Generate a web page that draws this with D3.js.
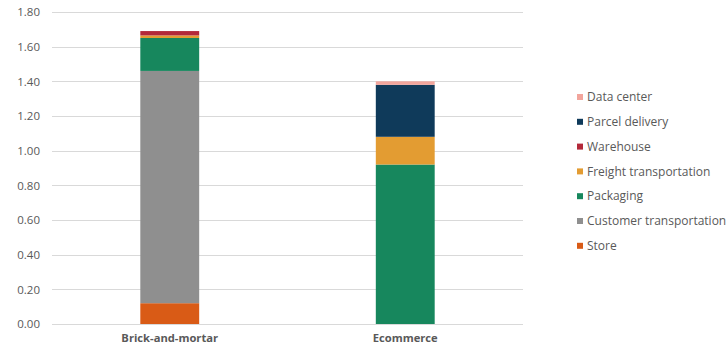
<!DOCTYPE html>
<html lang="en">
<head>
<meta charset="utf-8">
<title>Stacked bar chart</title>
<script src="https://d3js.org/d3.v7.min.js"></script>
<style>
  body { margin: 0; background: #fff; }
  text { font-family: "Open Sans", "Noto Sans", sans-serif; fill: #595959; }
</style>
</head>
<body>
<div id="chart"></div>
<script>
// categories and series (bottom of stack first)
var categories = ["Brick-and-mortar", "Ecommerce"];
var seriesNames = ["Store", "Customer transportation", "Packaging", "Freight transportation", "Warehouse", "Parcel delivery", "Data center"];
var seriesColors = ["#d95b16", "#8f8f8f", "#17875d", "#e39c32", "#b3293a", "#0f3a5a", "#f2a59c"];
var store        = [0.12, 0.00];
var customer     = [1.34, 0.00];
var packaging    = [0.19, 0.92];
var freight      = [0.015, 0.16];
var warehouse    = [0.025, 0.00];
var parcel       = [0.00, 0.30];
var dataCenter   = [0.00, 0.02];
var yTicks = [0, 0.2, 0.4, 0.6, 0.8, 1.0, 1.2, 1.4, 1.6, 1.8];

var seriesValues = [store, customer, packaging, freight, warehouse, parcel, dataCenter];

var W = 728, H = 352;
var margin = {top: 12, right: 205, bottom: 28, left: 52};
var width = W - margin.left - margin.right,
    height = H - margin.top - margin.bottom;

var svg = d3.select("#chart").append("svg")
    .attr("width", W)
    .attr("height", H);

var g = svg.append("g")
    .attr("transform", "translate(" + margin.left + "," + margin.top + ")");

// build rows for d3.stack
var rows = categories.map(function(c, i) {
  var r = {cat: c};
  seriesNames.forEach(function(s, j) { r[s] = seriesValues[j][i]; });
  return r;
});
var stacked = d3.stack().keys(seriesNames)(rows);

var x = d3.scaleBand()
    .domain(categories)
    .range([0, width])
    .paddingInner(0.75)
    .paddingOuter(0.375);

var y = d3.scaleLinear()
    .domain([0, 1.8])
    .range([height, 0]);

// gridlines
g.append("g")
    .selectAll("line")
    .data(yTicks)
    .enter().append("line")
    .attr("x1", 0)
    .attr("x2", width)
    .attr("y1", function(d) { return Math.round(y(d)) + 0.5; })
    .attr("y2", function(d) { return Math.round(y(d)) + 0.5; })
    .attr("stroke", "#d9d9d9")
    .attr("stroke-width", 1);

// y axis labels
var yAxis = g.append("g")
    .call(d3.axisLeft(y).tickValues(yTicks).tickFormat(d3.format(".2f")).tickSize(0).tickPadding(12));
yAxis.select(".domain").remove();
yAxis.selectAll("text").style("font-size", "11.5px").attr("fill", "#595959");

// bars
g.selectAll(".layer")
  .data(stacked)
  .enter().append("g")
    .attr("class", "layer")
    .attr("fill", function(d, i) { return seriesColors[i]; })
  .selectAll("rect")
  .data(function(d) { return d; })
  .enter().append("rect")
    .attr("x", function(d) { return x(d.data.cat); })
    .attr("width", x.bandwidth())
    .attr("y", function(d) { return y(d[1]); })
    .attr("height", function(d) { return Math.max(0, y(d[0]) - y(d[1])); });

// x axis labels
var xAxis = g.append("g")
    .attr("transform", "translate(0," + height + ")")
    .call(d3.axisBottom(x).tickSize(0).tickPadding(10));
xAxis.select(".domain").remove();
xAxis.selectAll("text")
    .style("font-size", "11.2px")
    .style("font-weight", "bold")
    .attr("fill", "#404040");

// legend (top item is last series)
var legend = svg.append("g")
    .attr("transform", "translate(577,97)");
var legItems = seriesNames.slice().reverse();
var legColors = seriesColors.slice().reverse();
var item = legend.selectAll(".item")
    .data(legItems)
    .enter().append("g")
    .attr("transform", function(d, i) { return "translate(0," + (i * 24.8) + ")"; });
item.append("rect")
    .attr("x", 0)
    .attr("y", -3)
    .attr("width", 6)
    .attr("height", 6)
    .attr("fill", function(d, i) { return legColors[i]; });
item.append("text")
    .attr("x", 10)
    .attr("y", 0)
    .attr("dy", "0.35em")
    .style("font-size", "12px")
    .text(function(d) { return d; });
</script>
</body>
</html>
